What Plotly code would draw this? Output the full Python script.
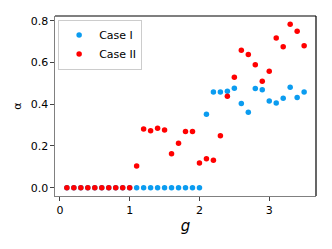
import plotly.graph_objects as go

g = [round(0.1 * i, 1) for i in range(1, 36)]

case1 = [0.0] * 20 + [0.352, 0.459, 0.459, 0.462, 0.477, 0.403, 0.362, 0.475, 0.470,
                      0.416, 0.406, 0.429, 0.481, 0.432, 0.459]
case2 = [0.0] * 10 + [0.104, 0.281, 0.273, 0.285, 0.277, 0.162, 0.213, 0.269, 0.269,
                      0.118, 0.139, 0.131, 0.249, 0.438, 0.529, 0.659, 0.638, 0.589,
                      0.510, 0.558, 0.717, 0.676, 0.784, 0.750, 0.680]

x_ticks = [0, 1, 2, 3]
y_ticks = [0.0, 0.2, 0.4, 0.6, 0.8]
y_tick_text = ["0.0", "0.2", "0.4", "0.6", "0.8"]

FONT = "DejaVu Sans"

fig = go.Figure()
fig.add_trace(go.Scatter(x=g, y=case1, mode="markers", name="Case I",
                         marker=dict(color="#0b9cf0", size=5.5, line=dict(width=0))))
fig.add_trace(go.Scatter(x=g, y=case2, mode="markers", name="Case II",
                         marker=dict(color="#ff0000", size=5.5, line=dict(width=0))))

# page body has an 8px default margin, so the figure is slightly smaller
fig.update_layout(
    width=324, height=241,
    margin=dict(l=47, r=16, t=8, b=53),
    paper_bgcolor="white", plot_bgcolor="white",
    font=dict(family=FONT, size=11, color="black"),
    showlegend=True,
    legend=dict(x=0.012, y=0.98, xanchor="left", yanchor="top",
                bgcolor="white", bordercolor="#cccccc", borderwidth=1,
                font=dict(size=11, family=FONT), itemwidth=30,
                tracegroupgap=0),
    xaxis=dict(range=[-0.07, 3.67], tickvals=x_ticks, ticks="outside", ticklen=3.5,
               tickcolor="#444", showline=True, linecolor="#808080", linewidth=1.2,
               showgrid=False, zeroline=False, tickfont=dict(size=11),
               automargin=False,
               title=dict(text="<i>g</i>", font=dict(size=15), standoff=4)),
    yaxis=dict(range=[-0.04, 0.823], tickvals=y_ticks, ticktext=y_tick_text,
               ticks="outside", ticklen=3.5, tickcolor="#444", showline=True,
               linecolor="#808080", linewidth=1.2, showgrid=False, zeroline=False,
               tickfont=dict(size=11), automargin=False,
               title=dict(text="α", font=dict(size=11), standoff=6)),
)
fig.add_shape(type="line", xref="paper", yref="paper", x0=0, x1=1, y0=1, y1=1,
              line=dict(color="black", width=1.2))
fig.add_shape(type="line", xref="paper", yref="paper", x0=1, x1=1, y0=0, y1=1,
              line=dict(color="black", width=1.2))

fig.write_html("out.html")
